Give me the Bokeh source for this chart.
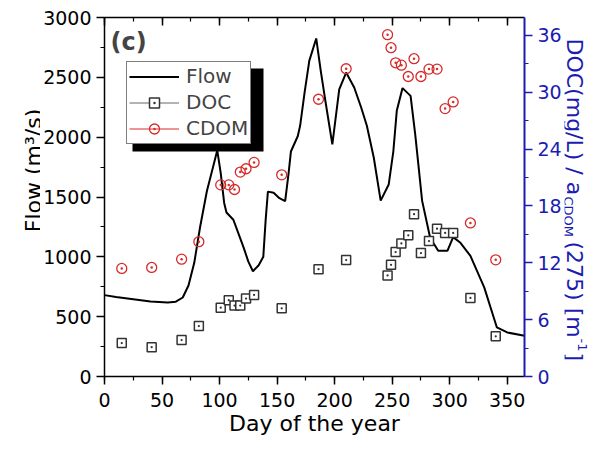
import math
from bokeh.plotting import figure
from bokeh.layouts import row
from bokeh.models import (Range1d, LinearAxis, SingleIntervalTicker, Legend, LegendItem,
                          Label, BoxAnnotation, CustomJSTickFormatter)
from bokeh.embed import file_html
from bokeh.resources import INLINE

# ---------------- data ----------------
flow_day = [0, 10, 25, 40, 55, 62, 68, 73, 78, 83, 89, 95, 98, 101, 104, 106, 112, 117, 121, 125,
            129, 134, 138, 140, 142, 147, 152, 157, 160, 162, 168, 170, 174, 178, 184, 188, 192,
            198, 204, 210, 217, 223, 228, 234, 240, 247, 251, 254, 259, 266, 270, 273, 276, 283,
            290, 298, 303, 309, 318, 330, 341, 350, 365]
flow = [680, 665, 646, 627, 618, 625, 660, 760, 950, 1245, 1550, 1775, 1890, 1700, 1450, 1370,
        1310, 1180, 1075, 960, 880, 930, 1000, 1300, 1545, 1535, 1490, 1465, 1700, 1880, 2010,
        2095, 2380, 2640, 2825, 2550, 2300, 1940, 2400, 2540, 2415, 2250, 2095, 1830, 1470,
        1605, 1880, 2220, 2410, 2345, 2025, 1750, 1470, 1160, 1050, 1050, 1165, 1120, 1008,
        745, 410, 368, 340]

sample_day = [15, 41, 67, 82, 101, 108, 113, 118, 123, 130, 154, 186, 210, 246, 249, 253, 258,
              264, 269, 275, 282, 289, 296, 303, 318, 340]
doc = [3.53, 3.10, 3.85, 5.33, 7.27, 8.05, 7.49, 7.49, 8.23, 8.61, 7.20, 11.33, 12.29, 10.67,
       11.79, 13.14, 14.05, 14.90, 17.13, 13.03, 14.30, 15.60, 15.15, 15.15, 8.30, 4.24]
cdom = [11.41, 11.51, 12.39, 14.23, 20.23, 20.23, 19.74, 21.58, 21.93, 22.60, 21.29, 29.27,
        32.49, 36.09, 34.71, 33.12, 32.87, 31.67, 33.55, 31.67, 32.45, 32.45, 28.28, 28.99,
        16.21, 12.32]

x_ticks_interval = 50
flow_ticks_interval = 500
right_ticks_interval = 6

# ---------------- layout ----------------
H = 441                   # canvas height
LW, RW = 40, 31           # widths of the side strips holding the axis titles
FW, FH = 420, 359
FL, FT = 104, 17          # frame left / top within the whole picture
FB = H - FT - FH          # bottom border
BR = 40                   # main figure right border
X0, X1 = 0, 365
Y0, Y1 = 0, 3000
R0, R1 = 0, 37.9
FONT = "DejaVu Sans"
BLUE = "#1c1cb0"
RED = "#d62b2b"


def dx(px):  # pixel offset from frame left -> data x
    return X0 + px * (X1 - X0) / FW


def dy(py):  # pixel offset from frame top -> data y (flow)
    return Y1 - py * (Y1 - Y0) / FH


p = figure(title=None, frame_width=FW, frame_height=FH, min_border_left=FL - LW,
           min_border_right=BR, min_border_top=FT, min_border_bottom=FB,
           x_range=Range1d(X0, X1), y_range=Range1d(Y0, Y1),
           output_backend="svg", toolbar_location=None, tools="")
p.extra_y_ranges = {"right": Range1d(R0, R1)}
p.xgrid.grid_line_color = None
p.ygrid.grid_line_color = None
p.outline_line_color = None
p.background_fill_color = "white"
p.border_fill_color = "white"


def style_axis(ax, color="black", lw=1.5):
    ax.axis_line_color = color
    ax.axis_line_width = lw
    ax.major_tick_line_color = color
    ax.minor_tick_line_color = color
    ax.major_tick_line_width = 1.5
    ax.minor_tick_line_width = 1.2
    ax.major_tick_out = 8
    ax.major_tick_in = 0
    ax.minor_tick_out = 4
    ax.minor_tick_in = 0
    ax.major_label_text_font = FONT
    ax.major_label_text_font_size = "19px"
    ax.major_label_text_color = color
    ax.major_label_standoff = 5


xa = p.xaxis[0]
xa.ticker = SingleIntervalTicker(interval=x_ticks_interval, num_minor_ticks=2)
style_axis(xa)
xa.major_label_standoff = 8
xa.axis_label = "Day of the year"
xa.axis_label_text_font = FONT
xa.axis_label_text_font_size = "22px"
xa.axis_label_text_font_style = "normal"
xa.axis_label_text_color = "black"
xa.axis_label_standoff = 1

ya = p.yaxis[0]
ya.ticker = SingleIntervalTicker(interval=flow_ticks_interval, num_minor_ticks=2)
style_axis(ya)

ra = LinearAxis(y_range_name="right",
                ticker=SingleIntervalTicker(interval=right_ticks_interval, num_minor_ticks=2))
style_axis(ra, color=BLUE, lw=2)
p.add_layout(ra, "right")

ta = LinearAxis(ticker=SingleIntervalTicker(interval=x_ticks_interval, num_minor_ticks=2),
                formatter=CustomJSTickFormatter(code="return ''"))
style_axis(ta)
ta.major_tick_in = 8
ta.major_tick_out = 0
ta.minor_tick_in = 4
ta.minor_tick_out = 0
ta.major_label_standoff = 0
p.add_layout(ta, "above")

# ---------------- glyphs ----------------
nan = float("nan")
flow_r = p.line(flow_day, flow, line_color="black", line_width=2)
doc_r = p.scatter(sample_day, doc, marker="square_dot", size=9, line_color="#333333",
                  fill_color="white", line_width=1.5, y_range_name="right")
cdom_r = p.scatter(sample_day, cdom, marker="circle_dot", size=10, line_color=RED,
                   fill_color="white", fill_alpha=0, line_width=1.3, y_range_name="right")
doc_leg = p.line([nan, nan], [nan, nan], line_color="#666666", line_width=1)
cdom_leg = p.line([nan, nan], [nan, nan], line_color=RED, line_width=1)

# legend shadow
shadow = BoxAnnotation(left=dx(28), right=dx(159), top=dy(51), bottom=dy(134),
                       fill_color="black", fill_alpha=1, line_alpha=0)
p.add_layout(shadow)

legend = Legend(items=[LegendItem(label="Flow", renderers=[flow_r]),
                       LegendItem(label="DOC", renderers=[doc_leg, doc_r]),
                       LegendItem(label="CDOM", renderers=[cdom_leg, cdom_r])],
                location=(22, FH - 126.5), border_line_color="black", border_line_width=1,
                background_fill_color="white", background_fill_alpha=1,
                label_text_font=FONT, label_text_font_size="20px",
                glyph_width=50, glyph_height=25, label_height=25, label_standoff=7,
                padding=2, spacing=1, margin=0)
p.add_layout(legend)

# panel tag
p.add_layout(Label(x=dx(6), y=dy(24), text="(c)", text_font=FONT, text_font_style="bold",
                   text_font_size="24px", text_baseline="middle", text_align="left"))


# ---------------- side strips for the axis titles ----------------
# frames are aligned with the main frame (same top/bottom borders); data y = H - picture y
def strip(width):
    s = figure(title=None, frame_width=width, frame_height=FH,
               min_border_left=0, min_border_right=0, min_border_top=FT, min_border_bottom=FB,
               x_range=Range1d(0, width), y_range=Range1d(H - FT - FH, H - FT),
               x_axis_type=None, y_axis_type=None,
               output_backend="svg", toolbar_location=None, tools="")
    s.xgrid.grid_line_color = None
    s.ygrid.grid_line_color = None
    s.outline_line_color = None
    s.background_fill_color = "white"
    s.border_fill_color = "white"
    return s


left = strip(LW)
left.add_layout(Label(x=33, y=H - 170, text="Flow (m³/s)", angle=math.pi / 2,
                      text_font=FONT, text_font_size="22px", text_align="center",
                      text_baseline="alphabetic", text_color="black"))

right = strip(RW)
R_X = FL + FW + BR        # picture x of the right strip's left edge
right_pieces = [("DOC(mg/L) / a", 574, 38, "22px"),
                ("CDOM", 568, 196, "13px"),
                ("(275) [m", 574, 241, "22px"),
                ("-1", 582, 338, "13px"),
                ("]", 574, 352, "22px")]
for txt, bx, sy, fs in right_pieces:
    right.add_layout(Label(x=bx - R_X, y=H - sy, text=txt, angle=-math.pi / 2,
                           text_font=FONT, text_font_size=fs, text_align="left",
                           text_baseline="alphabetic", text_color=BLUE))

layout = row(left, p, right, spacing=0)
open("out.html", "w").write(file_html(layout, INLINE))
